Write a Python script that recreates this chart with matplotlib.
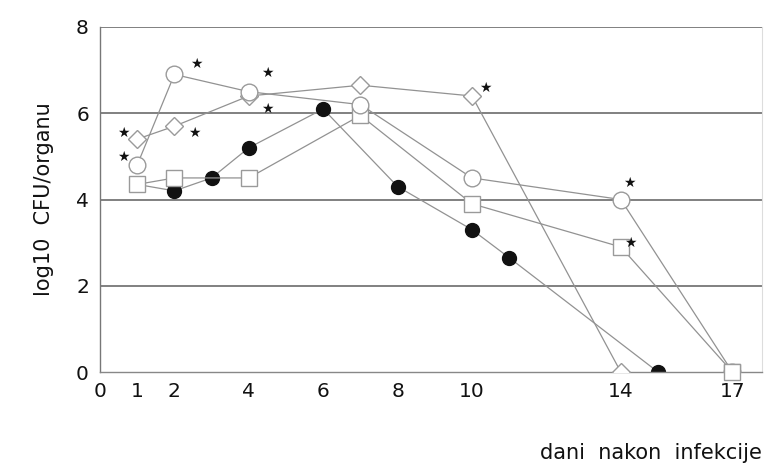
import matplotlib
matplotlib.use("Agg")
import matplotlib.pyplot as plt

# Data
days_circle = [1, 2, 4, 7, 10, 14, 17]
vals_circle = [4.8, 6.9, 6.5, 6.2, 4.5, 4.0, 0.0]

days_diamond = [1, 2, 4, 7, 10, 14]
vals_diamond = [5.4, 5.7, 6.4, 6.65, 6.4, 0.0]

days_square = [1, 2, 4, 7, 10, 14, 17]
vals_square = [4.35, 4.5, 4.5, 5.95, 3.9, 2.9, 0.0]

days_filled = [1, 2, 3, 4, 6, 8, 10, 11, 15]
vals_filled = [4.35, 4.2, 4.5, 5.2, 6.1, 4.3, 3.3, 2.65, 0.0]

xticks = [0, 1, 2, 4, 6, 8, 10, 14, 17]
yticks = [0, 2, 4, 6, 8]

# significance stars: (x, y, dx_px, dy_px)
stars = [
    (1, 4.8, -14, 8), (1, 5.4, -14, 6),
    (2, 6.9, 22, 11), (2, 5.7, 20, -7),
    (4, 6.5, 19, 19), (4, 6.4, 19, -13),
    (10, 6.4, 13, 8), (14, 4.0, 9, 17), (14, 2.9, 10, 4),
]

plt.rcParams['font.family'] = ['DejaVu Sans']

fig = plt.figure(figsize=(7.66, 4.68), dpi=100)
ax = fig.add_axes([100/766, (468-372)/468, 662/766, 345/468])
ax.set_xlim(0, 662/37.2)
ax.set_ylim(0, 8)

for y in yticks[1:]:
    ax.axhline(y, color='#5e5e5e', lw=1.1, zorder=1)

line_col = '#929292'
edge_col = '#9a9a9a'
ax.plot(days_filled, vals_filled, '-', color=line_col, lw=0.9, zorder=2,
        marker='o', ms=10, mfc='#111111', mec='#111111')
ax.plot(days_diamond, vals_diamond, '-', color=line_col, lw=0.9, zorder=3,
        marker='D', ms=9.5, mfc='white', mec=edge_col, mew=1.0)
ax.plot(days_circle, vals_circle, '-', color=line_col, lw=0.9, zorder=4,
        marker='o', ms=12, mfc='white', mec=edge_col, mew=1.0)
ax.plot(days_square, vals_square, '-', color=line_col, lw=0.9, zorder=3.5,
        marker='s', ms=11, mfc='white', mec=edge_col, mew=1.0)
# square marker on top at the last point (as in the reference)
ax.plot(days_square[-1:], vals_square[-1:], 's', ms=11, mfc='white', mec=edge_col,
        mew=1.0, zorder=5, clip_on=False)

for x, y, dx, dy in stars:
    ax.annotate('★', (x, y), xytext=(dx, dy), textcoords='offset pixels',
                ha='center', va='center', fontsize=10, color='#111111',
                zorder=6)

for s in ['top', 'right']:
    ax.spines[s].set_visible(False)
ax.spines['left'].set_color('#777777')
ax.spines['bottom'].set_color('#888888')
ax.spines['left'].set_linewidth(1.0)
ax.spines['bottom'].set_linewidth(1.0)
ax.plot([1, 1], [0, 1], transform=ax.transAxes, color='#dddddd', lw=0.8, clip_on=False)

ax.set_xticks(xticks)
ax.set_xticklabels([str(t) for t in xticks])
ax.set_yticks(yticks)
ax.set_yticklabels([str(t) for t in yticks])
ax.tick_params(axis='both', length=0, labelsize=14.5, colors='#111111')
ax.tick_params(axis='x', pad=7)
ax.tick_params(axis='y', pad=8)

ax.set_ylabel('log10  CFU/organu', fontsize=15, labelpad=16, color='#111111')
fig.text(762/766, (468-453)/468, 'dani  nakon  infekcije', ha='right', va='center',
         fontsize=15, color='#111111')

fig.savefig('out.png', dpi=100, facecolor='white')
